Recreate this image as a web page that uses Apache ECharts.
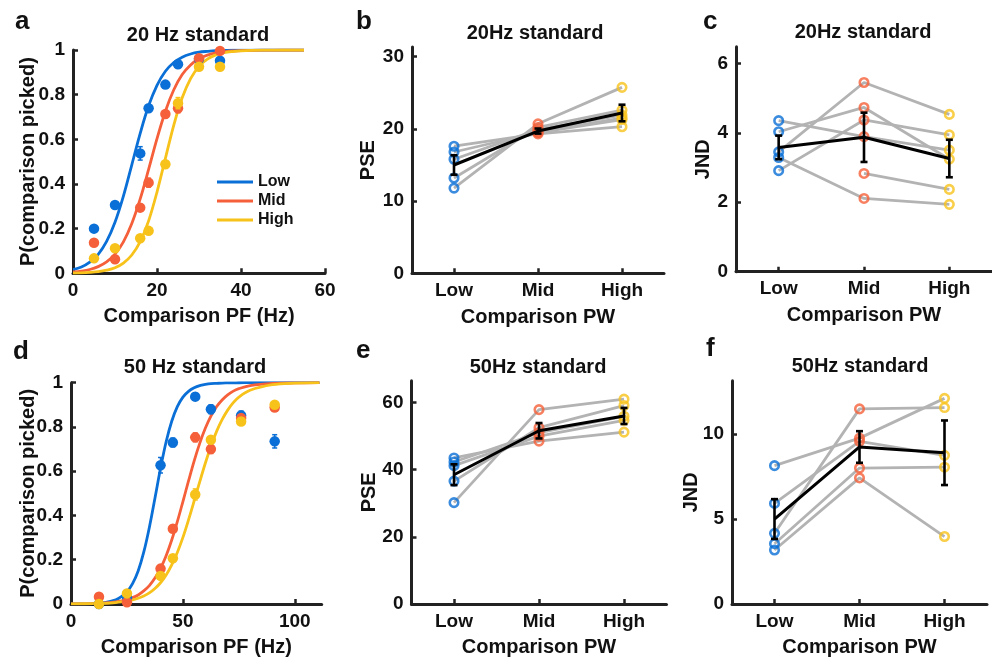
<!DOCTYPE html>
<html><head><meta charset="utf-8">
<script src="https://cdn.jsdelivr.net/npm/echarts@6/dist/echarts.min.js"></script>
<style>html,body{margin:0;padding:0;background:#fff}#c{width:992px;height:658px}</style>
</head><body><div id="c"></div>
<script>
// ---------- DATA ----------
const levels = ['Low', 'Mid', 'High'];

// panel a: 20 Hz standard psychometric data
const cmp20 = [5, 10, 16, 18, 22, 25, 30, 35];
const p20Low  = [0.200, 0.306, 0.537, 0.739, 0.845, 0.936, 0.960, 0.952];
const p20Mid  = [0.137, 0.063, 0.294, 0.406, 0.713, 0.739, 0.963, 0.996];
const p20High = [0.067, 0.112, 0.157, 0.190, 0.488, 0.762, 0.925, 0.925];
const e20Low  = [0.012, 0.012, 0.030, 0.015, 0.012, 0.010, 0.010, 0.015];
const e20Mid  = [0.010, 0.010, 0.015, 0.020, 0.015, 0.020, 0.010, 0.005];
const e20High = [0.010, 0.010, 0.010, 0.010, 0.010, 0.025, 0.010, 0.010];
// fitted curves
const fitX20    = [0, 2, 4, 6, 8, 10, 12, 14, 16, 18, 20, 22, 24, 26, 28, 30, 32, 34, 36, 38, 40, 45, 50, 55];
const fit20Low  = [0.016, 0.028, 0.050, 0.085, 0.143, 0.229, 0.346, 0.486, 0.627, 0.750, 0.842, 0.905, 0.944, 0.968, 0.982, 0.990, 0.994, 0.997, 0.998, 0.999, 0.999, 1, 1, 1];
const fit20Mid  = [0.006, 0.010, 0.017, 0.030, 0.051, 0.086, 0.141, 0.223, 0.333, 0.465, 0.603, 0.726, 0.822, 0.890, 0.933, 0.961, 0.977, 0.987, 0.992, 0.9956, 0.9975, 0.9994, 1, 1];
const fit20High = [0.001, 0.002, 0.004, 0.0074, 0.014, 0.025, 0.046, 0.082, 0.142, 0.235, 0.364, 0.515, 0.664, 0.786, 0.872, 0.927, 0.959, 0.978, 0.988, 0.993, 0.996, 0.9992, 1, 1];

// panel d: 50 Hz standard psychometric data
const cmp50 = [12.5, 25, 40, 45.5, 55.5, 62.5, 76, 91];
const p50Low  = [0.000, 0.030, 0.627, 0.730, 0.937, 0.880, 0.852, 0.735];
const p50Mid  = [0.033, 0.008, 0.160, 0.340, 0.753, 0.700, 0.840, 0.888];
const p50High = [0.000, 0.048, 0.127, 0.207, 0.495, 0.742, 0.825, 0.900];
const e50Low  = [0.005, 0.010, 0.035, 0.020, 0.015, 0.020, 0.020, 0.030];
const e50Mid  = [0.010, 0.005, 0.010, 0.015, 0.020, 0.020, 0.010, 0.015];
const e50High = [0.005, 0.010, 0.010, 0.015, 0.025, 0.015, 0.010, 0.010];
const fitX50    = [0, 10, 15, 20, 22.5, 25, 27.5, 30, 32.5, 35, 37.5, 40, 42.5, 45, 47.5, 50, 52.5, 55, 57.5, 60, 62.5, 65, 67.5, 70, 72.5, 75, 80, 90, 100, 111];
const fit50Low  = [0.0002, 0.002, 0.0064, 0.019, 0.033, 0.055, 0.092, 0.149, 0.234, 0.346, 0.478, 0.613, 0.733, 0.826, 0.892, 0.935, 0.961, 0.977, 0.987, 0.992, 0.9955, 0.997, 0.9985, 0.999, 0.9995, 0.9997, 1, 1, 1, 1];
const fit50Mid  = [0.0005, 0.002, 0.0045, 0.0095, 0.0137, 0.020, 0.0287, 0.041, 0.059, 0.083, 0.117, 0.161, 0.218, 0.289, 0.372, 0.463, 0.556, 0.646, 0.726, 0.794, 0.849, 0.891, 0.922, 0.945, 0.962, 0.973, 0.987, 0.997, 0.999, 1];
const fit50High = [0.0004, 0.0016, 0.0032, 0.0064, 0.0091, 0.013, 0.018, 0.026, 0.036, 0.050, 0.070, 0.096, 0.131, 0.177, 0.233, 0.301, 0.380, 0.465, 0.552, 0.636, 0.713, 0.779, 0.833, 0.876, 0.910, 0.935, 0.966, 0.991, 0.998, 1];

// per-subject values [Low, Mid, High]
const pse20 = [
  [17.6, 19.3, 20.3],
  [16.8, 19.5, 21.3],
  [15.8, 19.9, 21.9],
  [13.2, 20.2, 22.6],
  [11.8, 20.7, 25.75],
  [null, 19.6, 21.5]
];
const jnd20 = [
  [4.35, 3.89, 3.50],
  [4.03, 4.73, 3.24],
  [3.45, 5.45, 4.53],
  [3.29, 2.11, 1.94],
  [2.91, 4.37, 3.94],
  [null, 2.83, 2.37]
];
const pse50 = [
  [43.5, 48.5, 51.2],
  [41.2, 50.0, 54.7],
  [42.3, 51.0, 55.9],
  [36.6, 52.5, 59.1],
  [30.2, 57.9, 61.0]
];
const jnd50 = [
  [8.14, 9.76, 12.10],
  [5.92, 9.57, 8.75],
  [4.16, 11.48, 11.56],
  [3.55, 8.00, 8.05],
  [3.18, 7.42, 3.97]
];
// group mean and SEM
const pse20Mean = [15.0, 19.7, 22.2], pse20Sem = [1.35, 0.35, 1.15];
const jnd20Mean = [3.58, 3.87, 3.26], jnd20Sem = [0.34, 0.71, 0.54];
const pse50Mean = [38.5, 51.6, 56.0], pse50Sem = [3.1, 2.3, 2.4];
const jnd50Mean = [5.0, 9.24, 8.9],   jnd50Sem = [1.17, 0.93, 1.9];

// ticks
const ticksP = [0, 0.2, 0.4, 0.6, 0.8, 1];
const ticksA = [0, 20, 40, 60], ticksD = [0, 50, 100];
const ticksPse20 = [0, 10, 20, 30], ticksJnd20 = [0, 2, 4, 6];
const ticksPse50 = [0, 20, 40, 60], ticksJnd50 = [0, 5, 10];

// ---------- STYLE ----------
const FONT = '"Liberation Sans", Arial, Helvetica, sans-serif';
const AX = '#222', TXT = '#111';
const COLORS = ['#0a6fd6', '#f5603a', '#f7c21a'];
const GRAY = '#b3b3b3';

const chart = echarts.init(document.getElementById('c'), null, {renderer: 'canvas'});

function errRender(color, cap, lw) {
  return function (params, api) {
    const x = api.value(0), y = api.value(1), e = api.value(2);
    const t = api.coord([x, y + e]), b = api.coord([x, y - e]);
    const h = cap / 2;
    const st = {stroke: color, lineWidth: lw};
    return {type: 'group', children: [
      {type: 'line', shape: {x1: t[0], y1: t[1], x2: b[0], y2: b[1]}, style: st},
      {type: 'line', shape: {x1: t[0] - h, y1: t[1], x2: t[0] + h, y2: t[1]}, style: st},
      {type: 'line', shape: {x1: b[0] - h, y1: b[1], x2: b[0] + h, y2: b[1]}, style: st}
    ]};
  };
}

function axis(gi, type, o) {
  const a = {
    gridIndex: gi, type: type,
    axisLine: {show: true, onZero: false, lineStyle: {color: AX, width: 3}},
    axisTick: {show: true, inside: true, length: 5, lineStyle: {color: AX, width: 2.5}},
    axisLabel: {color: TXT, fontFamily: FONT, fontWeight: 'bold', fontSize: 19, margin: 8},
    splitLine: {show: false},
    nameLocation: 'middle',
    nameMoveOverlap: false,
    nameTextStyle: {color: TXT, fontFamily: FONT, fontWeight: 'bold', fontSize: 20},
    name: o.name, nameGap: o.nameGap
  };
  if (type === 'category') {
    a.data = levels; a.boundaryGap = true;
    a.axisTick.alignWithLabel = true;
    a.axisTick.interval = 0;
  } else {
    a.min = o.min; a.max = o.max;
    a.axisTick.customValues = o.ticks;
    a.axisLabel.customValues = o.ticks;
  }
  return a;
}

const grids = [
  {left: 73, top: 50, width: 252, height: 223.3},
  {left: 412, top: 47, width: 252, height: 226.3},
  {left: 736, top: 46.7, width: 264, height: 225},
  {left: 71, top: 382.7, width: 250.7, height: 222.3},
  {left: 411.5, top: 380.7, width: 255, height: 224.3},
  {left: 732, top: 380.7, width: 255, height: 224.3}
];

const xAxes = [
  axis(0, 'value', {min: 0, max: 60, ticks: ticksA, name: 'Comparison PF (Hz)', nameGap: 33}),
  axis(1, 'category', {name: 'Comparison PW', nameGap: 34}),
  axis(2, 'category', {name: 'Comparison PW', nameGap: 34}),
  axis(3, 'value', {min: 0, max: 112, ticks: ticksD, name: 'Comparison PF (Hz)', nameGap: 33}),
  axis(4, 'category', {name: 'Comparison PW', nameGap: 33}),
  axis(5, 'category', {name: 'Comparison PW', nameGap: 33})
];
const yAxes = [
  axis(0, 'value', {min: 0, max: 1, ticks: ticksP, name: 'P(comparison picked)', nameGap: 35}),
  axis(1, 'value', {min: 0, max: 31.34, ticks: ticksPse20, name: 'PSE', nameGap: 34}),
  axis(2, 'value', {min: 0, max: 6.48, ticks: ticksJnd20, name: 'JND', nameGap: 23}),
  axis(3, 'value', {min: 0, max: 1, ticks: ticksP, name: 'P(comparison picked)', nameGap: 33}),
  axis(4, 'value', {min: 0, max: 66.5, ticks: ticksPse50, name: 'PSE', nameGap: 32}),
  axis(5, 'value', {min: 0, max: 13.14, ticks: ticksJnd50, name: 'JND', nameGap: 31})
];

const series = [];

function psychPanel(gi, cmp, pts, errs, fitX, fits, names) {
  fits.forEach((f, k) => {
    series.push({
      type: 'line', name: names[k], xAxisIndex: gi, yAxisIndex: gi,
      data: fitX.map((x, i) => [x, f[i]]), smooth: 0.35,
      showSymbol: false, symbol: 'none', lineStyle: {color: COLORS[k], width: 2.8},
      itemStyle: {color: COLORS[k]}, z: 2, silent: true
    });
  });
  pts.forEach((p, k) => {
    series.push({
      type: 'custom', xAxisIndex: gi, yAxisIndex: gi, z: 3 + k, silent: true,
      renderItem: errRender(COLORS[k], 5, 1.5),
      data: cmp.map((x, i) => [x, p[i], errs[k][i]])
    });
    series.push({
      type: 'scatter', xAxisIndex: gi, yAxisIndex: gi, z: 3 + k, silent: true,
      symbol: 'circle', symbolSize: 10.5,
      itemStyle: {color: COLORS[k], opacity: 1},
      data: cmp.map((x, i) => [x, p[i]])
    });
  });
}

function subjPanel(gi, subj, mean, sem) {
  subj.forEach(s => {
    series.push({
      type: 'line', xAxisIndex: gi, yAxisIndex: gi, data: s.slice(), connectNulls: false,
      symbol: 'none', lineStyle: {color: GRAY, width: 2.8}, z: 2, silent: true
    });
  });
  levels.forEach((lv, j) => {
    series.push({
      type: 'scatter', xAxisIndex: gi, yAxisIndex: gi, z: 3, silent: true,
      symbol: 'circle', symbolSize: 8.5,
      itemStyle: {color: 'rgba(255,255,255,0)', borderColor: COLORS[j], borderWidth: 2.6},
      data: subj.filter(s => s[j] !== null).map(s => [j, s[j]])
    });
  });
  series.push({
    type: 'line', xAxisIndex: gi, yAxisIndex: gi, data: mean.slice(),
    symbol: 'none', lineStyle: {color: '#000', width: 3}, z: 5, silent: true
  });
  series.push({
    type: 'custom', xAxisIndex: gi, yAxisIndex: gi, z: 6, silent: true,
    renderItem: errRender('#000', 7, 2.6),
    data: mean.map((m, j) => [j, m, sem[j]])
  });
}

psychPanel(0, cmp20, [p20Low, p20Mid, p20High], [e20Low, e20Mid, e20High], fitX20,
  [fit20Low, fit20Mid, fit20High], levels);
subjPanel(1, pse20, pse20Mean, pse20Sem);
subjPanel(2, jnd20, jnd20Mean, jnd20Sem);
psychPanel(3, cmp50, [p50Low, p50Mid, p50High], [e50Low, e50Mid, e50High], fitX50,
  [fit50Low, fit50Mid, fit50High], ['Low 50', 'Mid 50', 'High 50']);
subjPanel(4, pse50, pse50Mean, pse50Sem);
subjPanel(5, jnd50, jnd50Mean, jnd50Sem);

function txt(x, y, s, size, align) {
  return {type: 'text', x: x, y: y, silent: true, style: {
    text: s, fill: TXT, font: 'bold ' + size + 'px ' + FONT,
    textAlign: align || 'center', textVerticalAlign: 'middle'}};
}

chart.setOption({
  animation: false,
  backgroundColor: '#fff',
  grid: grids,
  xAxis: xAxes,
  yAxis: yAxes,
  legend: {
    data: levels.map(n => ({name: n, icon: 'rect'})),
    orient: 'vertical', left: 217, top: 174, padding: 0,
    itemWidth: 36, itemHeight: 3, itemGap: 3, selectedMode: false,
    textStyle: {color: TXT, fontFamily: FONT, fontWeight: 'bold', fontSize: 16, lineHeight: 16}
  },
  graphic: [
    txt(15, 22, 'a', 26, 'left'),
    txt(356, 22, 'b', 26, 'left'),
    txt(703, 22, 'c', 26, 'left'),
    txt(13, 352, 'd', 26, 'left'),
    txt(356, 351, 'e', 26, 'left'),
    txt(706, 349, 'f', 26, 'left'),
    txt(198, 35.7, '20 Hz standard', 20),
    txt(535, 33.7, '20Hz standard', 20),
    txt(863, 32.3, '20Hz standard', 20),
    txt(195, 367, '50 Hz standard', 20),
    txt(538, 367, '50Hz standard', 20),
    txt(860, 366.3, '50Hz standard', 20)
  ],
  series: series
});
</script></body></html>
